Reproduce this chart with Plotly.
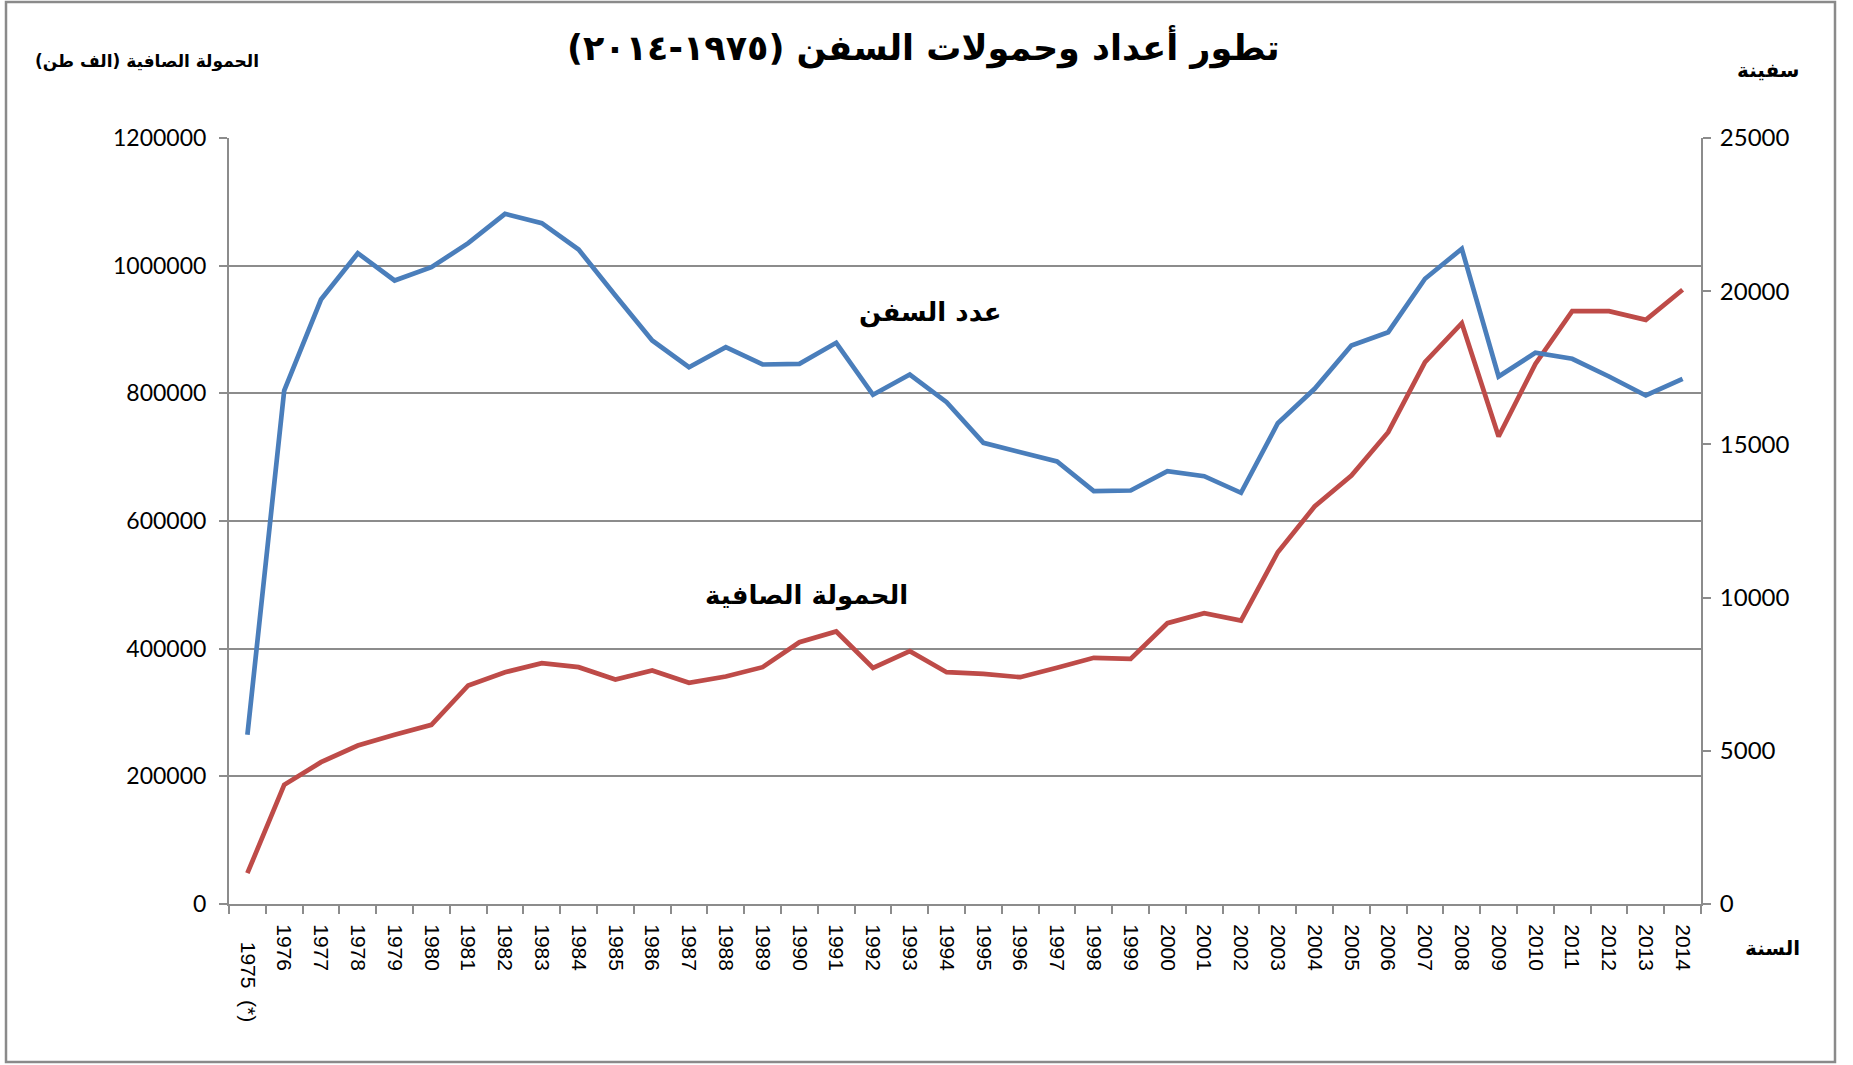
import plotly.graph_objects as go

years = [str(y) for y in range(1975, 2015)]
year_labels = ["\u00a0\u00a0\u00a01975\u00a0\u00a0(*)"] + [str(y) for y in range(1976, 2015)]

# Net tonnage (thousand tons) - left axis
tonnage = [48300, 186700, 222200, 248300, 265000, 280700, 342300, 363100, 377200, 371000,
           351700, 365800, 346500, 356400, 371000, 410100, 426900, 370000, 396000, 363100,
           360600, 355300, 370000, 385700, 384100, 439900, 455600, 444100, 551100, 622700,
           671300, 739100, 848800, 909900, 732400, 846200, 928700, 928700, 915100, 962200]

# Number of ships - right axis
ships = [5522, 16759, 19729, 21240, 20349, 20783, 21567, 22526, 22220, 21361,
         19860, 18391, 17520, 18173, 17608, 17631, 18316, 16619, 17281, 16378,
         15052, 14746, 14442, 13473, 13495, 14126, 13962, 13420, 15692, 16815,
         18228, 18662, 20405, 21384, 17216, 17990, 17794, 17216, 16596, 17141]

left_ticks = [0, 200000, 400000, 600000, 800000, 1000000, 1200000]
right_ticks = [0, 5000, 10000, 15000, 20000, 25000]

title_text = "تطور أعداد وحمولات السفن (١٩٧٥-٢٠١٤)"
left_title = "الحمولة الصافية (الف طن)"
right_title = "سفينة"
x_title = "السنة"
ships_label = "عدد السفن"
tonnage_label = "الحمولة الصافية"

BLUE = "#4A7EBB"
RED = "#BE4B48"
GRID = "#8C8C8C"
AR_FONT = "DejaVu Sans"
NUM_FONT = "Lato"

W, H = 1853, 1065
L, R, T, B = 229, 1701, 138, 904

def px(x):
    return (x - L) / (R - L)

def py(y):
    return (B - y) / (B - T)

fig = go.Figure()
fig.add_trace(go.Scatter(x=years, y=tonnage, mode="lines", line=dict(color=RED, width=4.7),
                         yaxis="y", showlegend=False, hoverinfo="skip"))
fig.add_trace(go.Scatter(x=years, y=ships, mode="lines", line=dict(color=BLUE, width=4.7),
                         yaxis="y2", showlegend=False, hoverinfo="skip"))

fig.update_layout(
    width=W, height=H,
    margin=dict(l=L, r=W - R, t=T, b=H - B, pad=0),
    paper_bgcolor="white", plot_bgcolor="white",
    xaxis=dict(type="category", tickvals=years, ticktext=year_labels, tickangle=90,
               ticks="outside", tickson="boundaries", ticklen=8, tickcolor=GRID, tickwidth=1.5,
               showline=True, linecolor=GRID, linewidth=2, showgrid=False,
               ticklabelstandoff=14,
               tickfont=dict(family="Liberation Sans", size=21, color="black"),
               automargin=False, range=[-0.5, 39.5]),
    yaxis=dict(range=[0, 1200000], tickvals=left_ticks, ticktext=[str(v) for v in left_ticks],
               ticks="outside", ticklen=8, tickcolor=GRID, tickwidth=1.5,
               showline=True, linecolor=GRID, linewidth=2, ticklabelstandoff=8,
               showgrid=True, gridcolor=GRID, gridwidth=2, zeroline=False,
               tickfont=dict(family=NUM_FONT, size=23, color="black"), automargin=False),
    yaxis2=dict(range=[0, 25000], tickvals=right_ticks, ticktext=[str(v) for v in right_ticks],
                overlaying="y", side="right", ticks="outside", ticklen=8, tickcolor=GRID, tickwidth=1.5,
                showline=True, linecolor=GRID, linewidth=2, showgrid=False, zeroline=False,
                ticklabelstandoff=4,
                tickfont=dict(family=NUM_FONT, size=24, color="black"), automargin=False),
)

# outer border
fig.add_shape(type="rect", xref="paper", yref="paper",
              x0=px(6), x1=px(1835), y0=py(1062), y1=py(2),
              line=dict(color="#8A8A8A", width=2.5), fillcolor="rgba(0,0,0,0)", layer="below")

def ann(text, x, y, size):
    fig.add_annotation(text="<b>" + text + "</b>", x=px(x), y=py(y), xref="paper", yref="paper",
                       showarrow=False, xanchor="center", yanchor="middle",
                       font=dict(family=AR_FONT, size=size, color="black"))

ann(title_text, 923, 47, 35)
ann(left_title, 147, 62, 17)
ann(right_title, 1768, 70, 20)
ann(x_title, 1772, 948, 20)
ann(ships_label, 930, 312, 26)
ann(tonnage_label, 806, 595, 26)

fig.write_html("out.html", config={"displayModeBar": False},
               post_script="document.body.style.margin='0';document.body.style.overflow='hidden';")
